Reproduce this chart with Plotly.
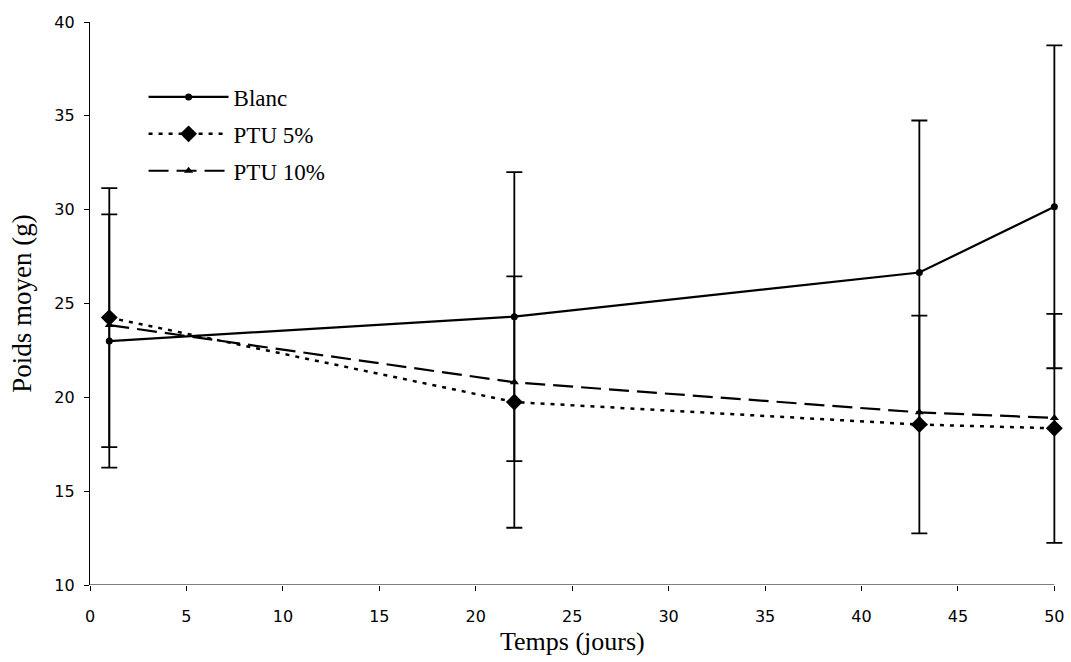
import plotly.graph_objects as go

days = [1, 22, 43, 50]
blanc = [23.0, 24.3, 26.65, 30.15]
blanc_err = [6.75, 7.7, 8.1, 8.6]
ptu5 = [24.25, 19.75, 18.55, 18.35]
ptu5_err = [6.9, 6.7, 5.8, 6.1]
ptu10 = [23.85, 20.8, 19.2, 18.9]

x_ticks = [0, 5, 10, 15, 20, 25, 30, 35, 40, 45, 50]
y_ticks = [10, 15, 20, 25, 30, 35, 40]

x_min, x_max = x_ticks[0], x_ticks[-1]
y_min, y_max = y_ticks[0], y_ticks[-1]
x_pad = 0.5  # room so the caps of the last error bars are not clipped

fig = go.Figure()

fig.add_trace(go.Scatter(
    x=days, y=blanc, name="Blanc", mode="lines+markers", legendgroup="a",
    line=dict(color="black", width=2.2),
    marker=dict(symbol="circle", size=7, color="black"),
    error_y=dict(type="data", array=blanc_err, visible=True,
                 color="black", thickness=1.8, width=8),
    cliponaxis=False,
))
fig.add_trace(go.Scatter(
    x=days, y=ptu5, name="PTU 5%", mode="lines+markers", legendgroup="b",
    line=dict(color="black", width=2.5, dash="4px,6px"),
    marker=dict(symbol="diamond", size=13, color="black"),
    error_y=dict(type="data", array=ptu5_err, visible=True,
                 color="black", thickness=1.8, width=8),
    cliponaxis=False,
))
fig.add_trace(go.Scatter(
    x=days, y=ptu10, name="PTU 10%", mode="lines+markers", legendgroup="c",
    line=dict(color="black", width=2.2, dash="20px,8px"),
    marker=dict(symbol="triangle-up", size=8, color="black"),
    cliponaxis=False,
))

# x axis line ending exactly at the last tick
fig.add_shape(type="line", xref="x", yref="y",
              x0=x_min, x1=x_max, y0=y_min, y1=y_min,
              line=dict(color="black", width=1.2), layer="above")

# x axis title centred under the drawn axis
fig.add_annotation(text="Temps (jours)", xref="x", yref="paper",
                   x=(x_min + x_max) / 2, y=0, yshift=-56, yanchor="middle",
                   showarrow=False,
                   font=dict(family="Liberation Serif", size=26, color="black"))

plot_w = 964 * (x_max + x_pad - x_min) / (x_max - x_min)

fig.update_layout(
    width=1071, height=662,
    margin=dict(l=90, r=1071 - 90 - plot_w, t=22, b=77),
    paper_bgcolor="white", plot_bgcolor="white",
    showlegend=True,
    legend=dict(
        x=0.055, y=0.905, xanchor="left", yanchor="top",
        bgcolor="rgba(0,0,0,0)",
        font=dict(family="Liberation Serif", size=23, color="black"),
        itemwidth=80, traceorder="grouped", tracegroupgap=4,
    ),
    font=dict(family="DejaVu Sans", color="black"),
)

fig.update_xaxes(
    range=[x_min, x_max + x_pad], tickvals=x_ticks, ticktext=[str(v) for v in x_ticks],
    showline=False, showgrid=False, zeroline=False,
    ticks="outside", ticklen=5, tickcolor="black",
    ticklabelstandoff=12,
    tickfont=dict(family="DejaVu Sans", size=16, color="black"),
)
fig.update_yaxes(
    range=[y_min, y_max], tickvals=y_ticks, ticktext=[str(v) for v in y_ticks],
    showline=True, linecolor="black", linewidth=1.2, mirror=False,
    showgrid=False, zeroline=False,
    ticks="outside", ticklen=5, tickcolor="black",
    ticklabelstandoff=6,
    tickfont=dict(family="DejaVu Sans", size=16, color="black"),
    title=dict(text="Poids moyen (g)", font=dict(family="Liberation Serif", size=27, color="black"), standoff=14),
)

fig.write_html("out.html")
